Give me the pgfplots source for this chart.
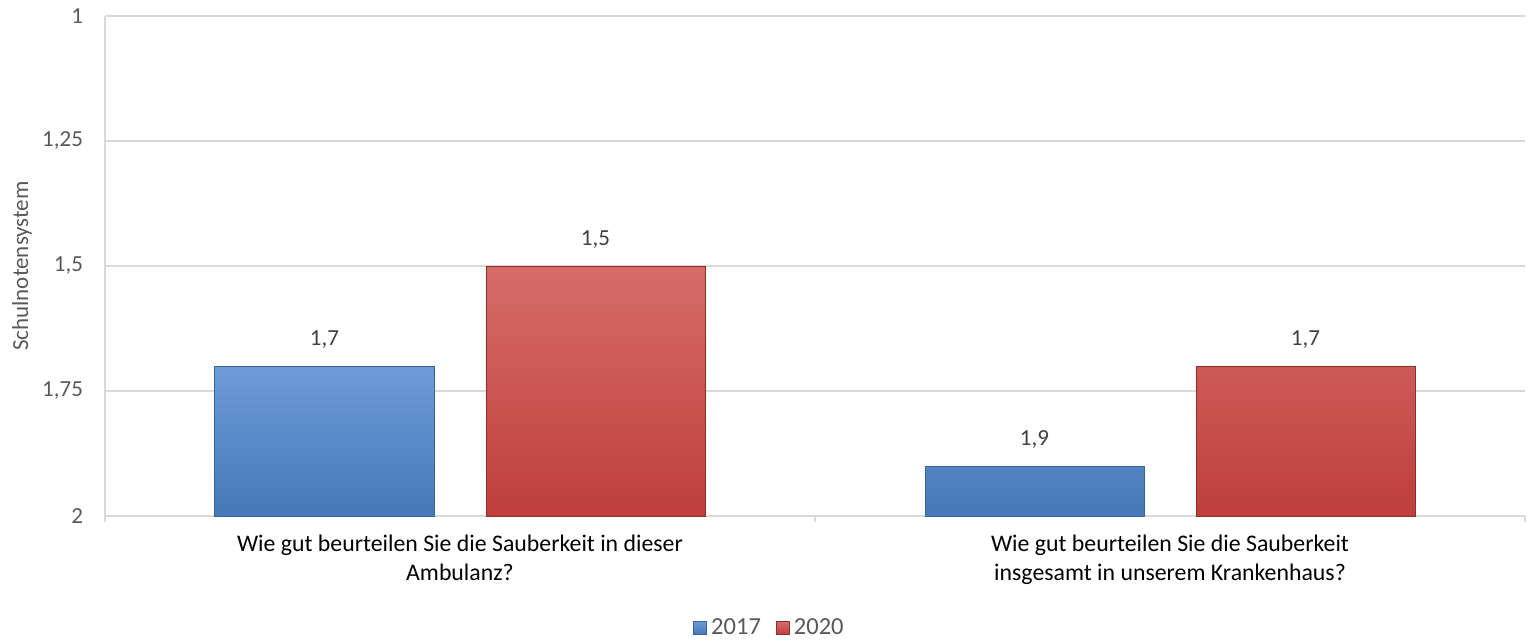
\documentclass[border=0pt]{standalone}
\usepackage{fontspec}
\setmainfont{Carlito}
\usepackage{pgfplots}
\pgfplotsset{compat=1.18}
\usepackage{pgfplotstable}

\definecolor{gridgray}{HTML}{D9D9D9}
\definecolor{labgray}{HTML}{595959}
\definecolor{valgray}{HTML}{404040}
\definecolor{blueTop}{HTML}{6E9BD8}
\definecolor{blueBot}{HTML}{4577B9}
\definecolor{blueEdge}{HTML}{3A6496}
\definecolor{redTop}{HTML}{D66C68}
\definecolor{redBot}{HTML}{BE3E3B}
\definecolor{redEdge}{HTML}{8E2E2B}

% school grade (1 = best); bars grow up from 2
\pgfplotstableread{
x v
0 1.7
1 1.9
}\tabA
\pgfplotstableread{
x v
0 1.5
1 1.7
}\tabB

\begin{document}
\begin{tikzpicture}
\useasboundingbox (-52.5pt,-63.5pt) rectangle (712pt,258pt);
\begin{axis}[
    at={(0,0)}, anchor=south west,
    scale only axis,
    width=710pt, height=250pt,
    ybar=26pt,
    bar width=109.5pt,
    xmin=-0.5, xmax=1.5,
    ymin=0, ymax=1,
    enlargelimits=false,
    axis x line*=bottom,
    axis y line*=left,
    axis line style={gridgray, line width=0.8pt},
    ymajorgrids,
    grid style={gridgray, line width=0.7pt},
    xtick={0,1},
    xticklabels={{Wie gut beurteilen Sie die Sauberkeit in dieser\\Ambulanz?},
                 {Wie gut beurteilen Sie die Sauberkeit\\insgesamt in unserem Krankenhaus?}},
    xticklabel style={align=center, font=\fontsize{11.9}{14.5}\selectfont, text=black, yshift=-6pt},
    minor xtick={-0.5,0.5,1.5},
    major tick length=0pt,
    minor tick length=3pt,
    tick align=outside,
    minor tick style={gridgray, line width=0.8pt},
    ytick={0,0.25,0.5,0.75,1},
    yticklabels={2,{1,75},{1,5},{1,25},1},
    yticklabel style={font=\fontsize{11.5}{13}\selectfont, text=labgray, xshift=-7.5pt},
    ylabel={Schulnotensystem},
    ylabel style={at={(axis description cs:-0.0585,0.5)}, anchor=center,
                  font=\fontsize{11.5}{13}\selectfont, text=labgray},
    /pgf/number format/assume math mode=true,
    /pgf/number format/use comma,
    /pgf/number format/fixed,
    /pgf/number format/precision=1,
    point meta=explicit,
    nodes near coords,
    nodes near coords style={anchor=center, yshift=13pt,
                             font=\fontsize{11.5}{13}\selectfont, text=valgray},
    legend columns=2,
    legend style={draw=none, at={(0.4686,-0.224)}, anchor=center,
                  font=\fontsize{12.25}{14}\selectfont, text=labgray,
                  /tikz/every even column/.append style={column sep=5.5pt}},
    legend image code/.code={\draw[#1] (0pt,-3.25pt) rectangle (6.5pt,3.25pt);},
]
\addplot[draw=blueEdge, line width=0.5pt, top color=blueTop, bottom color=blueBot]
    table[x=x, y expr=2-\thisrow{v}, meta=v] {\tabA};
\addplot[draw=redEdge, line width=0.5pt, top color=redTop, bottom color=redBot]
    table[x=x, y expr=2-\thisrow{v}, meta=v] {\tabB};
\legend{2017, 2020}
\end{axis}
\end{tikzpicture}
\end{document}
